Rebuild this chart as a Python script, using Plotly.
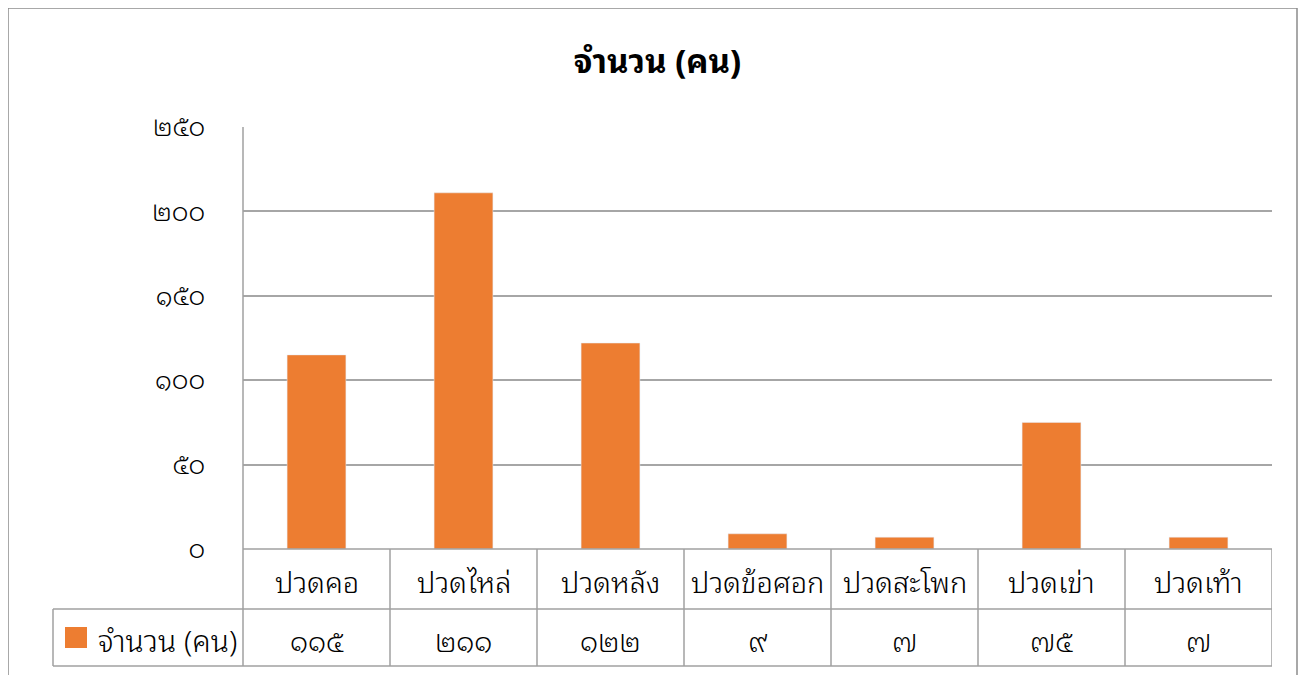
import plotly.graph_objects as go

categories = ["ปวดคอ", "ปวดไหล่", "ปวดหลัง", "ปวดข้อศอก", "ปวดสะโพก", "ปวดเข่า", "ปวดเท้า"]
values = [115, 211, 122, 9, 7, 75, 7]
series_name = "จำนวน (คน)"
tick_vals = [0, 50, 100, 150, 200, 250]

THAI = str.maketrans("0123456789", "๐๑๒๓๔๕๖๗๘๙")
def thai(n):
    return str(n).translate(THAI)

tick_text = [thai(v) for v in tick_vals]

OFF = 8  # default page body margin
W, H = 1307 - OFF, 675 - OFF
L, R, T, B = 243 - OFF, 1272 - OFF, 127 - OFF, 549 - OFF
pw, ph = R - L, B - T

def px(x):
    return (x - OFF - L) / pw

def py(y):
    return (B - (y - OFF)) / ph

FONT = "Noto Sans Thai Looped, Noto Sans Thai, Tahoma, Noto Sans, sans-serif"
ORANGE = "#ED7D31"
GRID = "#A6A6A6"
LINE = "#A0A0A0"

fig = go.Figure()
fig.add_trace(go.Bar(x=categories, y=values, marker_color=ORANGE, width=0.4,
                     name=series_name, showlegend=False))

shapes = []
row1_bot, row2_bot = 609, 666
shapes.append(dict(type="rect", xref="paper", yref="paper", x0=px(8), x1=px(1297),
                   y0=py(8), y1=py(700), line=dict(color="#8C8C8C", width=1.5), layer="below"))
shapes.append(dict(type="line", xref="paper", yref="paper", x0=0, x1=1, y0=0, y1=0,
                   line=dict(color=LINE, width=1.5)))
for yy in (row1_bot, row2_bot):
    shapes.append(dict(type="line", xref="paper", yref="paper", x0=px(53), x1=1,
                       y0=py(yy), y1=py(yy), line=dict(color=LINE, width=1.5)))
shapes.append(dict(type="line", xref="paper", yref="paper", x0=0, x1=0, y0=1, y1=py(row2_bot),
                   line=dict(color=LINE, width=1.5)))
shapes.append(dict(type="line", xref="paper", yref="paper", x0=px(53), x1=px(53),
                   y0=py(row1_bot), y1=py(row2_bot), line=dict(color=LINE, width=1.5)))
for i in range(len(categories)):
    xb = i + 0.5
    shapes.append(dict(type="line", xref="x", yref="paper", x0=xb, x1=xb,
                       y0=0, y1=py(row2_bot), line=dict(color=LINE, width=1.5)))
shapes.append(dict(type="rect", xref="paper", yref="paper", x0=px(65), x1=px(87),
                   y0=py(627), y1=py(648), fillcolor=ORANGE, line=dict(width=0)))

annotations = []
for c, v in zip(categories, values):
    annotations.append(dict(x=c, xref="x", y=py(580), yref="paper", text=c, showarrow=False,
                            font=dict(family=FONT, size=29, color="#000", weight=300),
                            xanchor="center", yanchor="middle"))
    annotations.append(dict(x=c, xref="x", y=py(639), yref="paper", text=thai(v), showarrow=False,
                            font=dict(family=FONT, size=28, color="#000", weight=300),
                            xanchor="center", yanchor="middle"))
annotations.append(dict(x=px(96), xref="paper", y=py(638), yref="paper", text=series_name,
                        showarrow=False, font=dict(family=FONT, size=30, color="#000", weight=300),
                        xanchor="left", yanchor="middle"))

fig.update_layout(
    width=W, height=H,
    margin=dict(l=L, r=W - R, t=T, b=H - B, pad=0),
    paper_bgcolor="white", plot_bgcolor="white",
    title=dict(text="<b>" + series_name + "</b>", x=0.5, xanchor="center",
               y=1 - (61 - OFF) / H, yanchor="middle",
               font=dict(family=FONT, size=33, color="#000")),
    xaxis=dict(type="category", range=[-0.5, len(categories) - 0.5], showticklabels=False,
               showgrid=False, zeroline=False, showline=False, ticks=""),
    yaxis=dict(range=[0, 250], tickvals=tick_vals, ticktext=tick_text, showgrid=True,
               gridcolor=GRID, gridwidth=1.5, zeroline=False, showline=False, ticks="",
               ticklabelstandoff=37,
               tickfont=dict(family=FONT, size=26, color="#000", weight=300)),
    shapes=shapes, annotations=annotations, showlegend=False,
)
fig.write_html("out.html")
